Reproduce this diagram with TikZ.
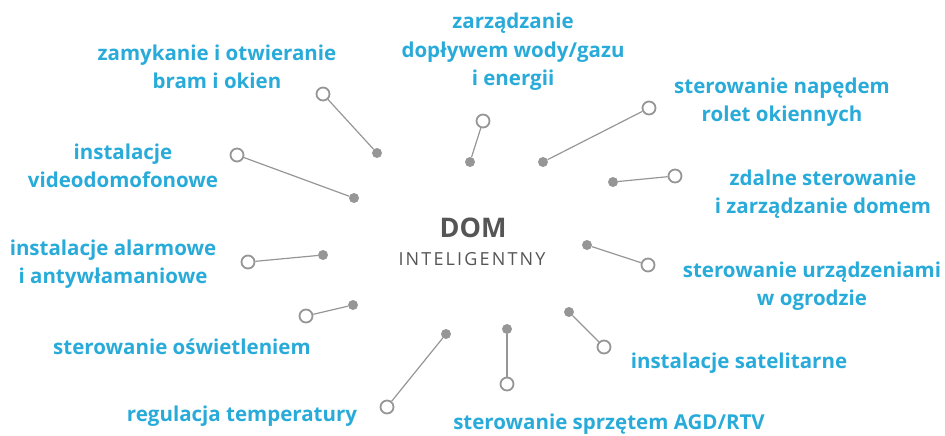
\documentclass[tikz,border=0pt]{standalone}
\usepackage{fontspec}
\setmainfont{Open Sans}
\newfontfamily\spacedfont[LetterSpace=12]{Open Sans}
\definecolor{labelblue}{RGB}{41,171,217}
\definecolor{linegray}{RGB}{150,150,150}
\definecolor{domgray}{RGB}{85,85,85}
\begin{document}
\begin{tikzpicture}[x=1pt,y=-1pt,
	dot node/.style={circle,fill=linegray,minimum size=10pt,inner sep=0pt},
	ring node/.style={circle,draw=linegray,line width=1.8pt,fill=white,minimum size=13pt,inner sep=0pt},
	label node/.style={text=labelblue,align=center,inner sep=0pt,font=\bfseries\fontsize{20.5}{28.5}\selectfont}
]
	\useasboundingbox (0,0) rectangle (945,436);

	\node[font=\bfseries\fontsize{27}{27}\selectfont,text=domgray] at (473,228) (dom) {DOM};
	\node[font=\spacedfont\fontsize{18}{18}\selectfont,text=domgray] at (472,259) (intel) {INTELIGENTNY};

	\foreach \s/\dx/\dy/\rx/\ry in {1/377/153/323/94, 2/470/162/483/121, 3/543/162/649/108,
		4/613/182/675/176, 5/587/245/648/265, 6/569/312/604/347, 7/507/329/507/384,
		8/446/334/387/407, 9/353/305/306/316, 10/323/255/248/262, 11/354/198/237/155} {
		\node[dot node] at (\dx,\dy) (d\s) {};
		\node[ring node] at (\rx,\ry) (r\s) {};
		\draw[linegray,line width=1.2pt] (d\s) -- (r\s);
	}

	\node[label node] at (217,67) (l1) {zamykanie i otwieranie\\bram i okien};
	\node[label node] at (513,52) (l2) {zarządzanie\\dopływem wody/gazu\\i energii};
	\node[label node] at (782,102) (l3) {sterowanie napędem\\rolet okiennych};
	\node[label node] at (823,194) (l4) {zdalne sterowanie\\i zarządzanie domem};
	\node[label node] at (812,286) (l5) {sterowanie urządzeniami\\w ogrodzie};
	\node[label node] at (739,363) (l6) {instalacje satelitarne};
	\node[label node] at (609,424) (l7) {sterowanie sprzętem AGD/RTV};
	\node[label node] at (242,416) (l8) {regulacja temperatury};
	\node[label node] at (182,347) (l9) {sterowanie oświetleniem};
	\node[label node] at (113,264) (l10) {instalacje alarmowe\\i antywłamaniowe};
	\node[label node] at (123,166) (l11) {instalacje\\videodomofonowe};
\end{tikzpicture}
\end{document}
